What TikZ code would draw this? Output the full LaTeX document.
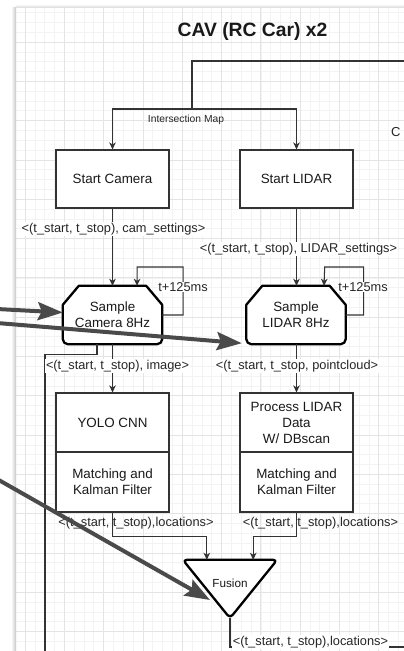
\documentclass[tikz,border=0pt]{standalone}
\usepackage{fontspec}
\setmainfont{Liberation Sans}
\usetikzlibrary{arrows.meta,calc}

\definecolor{linec}{HTML}{333333}
\definecolor{bigarrowc}{HTML}{4A4A4A}
\definecolor{minorg}{HTML}{F3F3F3}
\definecolor{majorg}{HTML}{E4E4E4}

\begin{document}
\begin{tikzpicture}[x=1pt,y=-1pt,
  minorgrid/.style={draw=minorg,line width=0.6pt},
  majorgrid/.style={draw=majorg,line width=0.8pt},
  box/.style={draw=linec,line width=1.1pt,fill=white,minimum width=113pt,
    align=center,font=\fontsize{13.4}{16}\selectfont,text=black!90,inner sep=0pt},
  hexbox/.style={minimum width=99pt,minimum height=58pt,align=center,
    font=\fontsize{13.4}{16}\selectfont,text=black!90,inner sep=0pt},
  thickout/.style={draw=black,line width=2.3pt,line join=round,fill=white},
  conn/.style={draw=linec,line width=1.05pt},
  arr/.style={conn,-{Stealth[length=7pt,width=6.5pt,inset=2pt]}},
  lbl/.style={font=\fontsize{12.8}{15}\selectfont,fill=white,inner sep=0.6pt,text=black!85},
  bigarrow/.style={draw=bigarrowc,line width=4pt,
    -{Stealth[length=25pt,width=18pt,inset=4pt]}},
]
\useasboundingbox (0,0) rectangle (404,651);
\fill[white] (0,0) rectangle (404,651);

% canvas grid
\begin{scope}
  \clip (16,7) rectangle (404,651);
  \fill[white] (16,7) rectangle (404,651);
  \foreach \k in {0,...,40} {\draw[minorgrid] ({15.175+\k*9.825},0) -- ++(0,660);}
  \foreach \k in {0,...,66} {\draw[minorgrid] (0,{2.7+\k*9.825}) -- ++(420,0);}
  \foreach \k in {0,...,10} {\draw[majorgrid] ({25+\k*39.3},0) -- ++(0,660);}
  \foreach \k in {0,...,16} {\draw[majorgrid] (0,{2.7+\k*39.3}) -- ++(420,0);}
\end{scope}
% page edge shadow
\shade[left color=white,right color=black!22] (11,7) rectangle (16,651);
\shade[top color=white,bottom color=black!12] (16,4) rectangle (404,7);

% title
\node[font=\bfseries\fontsize{19.3}{22}\selectfont,text=black!90] (title) at (252.5,32) {CAV (RC Car) x2};

% cut-off text at the right edge
\node[font=\fontsize{13}{15}\selectfont,text=black!85,anchor=west,inner sep=0pt] (cfrag) at (391,132) {C};

% start boxes
\node[box,minimum height=58pt] (sb) at (112.5,179) {Start Camera};
\node[box,minimum height=58pt] (lb) at (296.5,179) {Start LIDAR};

% sample shapes (loop limit outline)
\node[hexbox] (sc) at (112.5,315) {};
\node[hexbox] (ls) at (296,315) {};
\foreach \n in {sc,ls} {
  \draw[thickout,rounded corners=0pt]
    ($(\n.north west)+(16,0)$) -- ($(\n.north east)+(-16,0)$) -- ($(\n.north east)+(0,19)$)
    [rounded corners=5pt] -- (\n.south east) -- (\n.south west)
    [rounded corners=0pt] -- ($(\n.north west)+(0,19)$) -- cycle;
}
\node[hexbox] (sct) at (112.5,315) {Sample\\Camera 8Hz};
\node[hexbox] (lst) at (296,315) {Sample\\LIDAR 8Hz};

% processing boxes
\node[box,minimum height=59pt] (yolo) at (112.5,422.5) {YOLO CNN};
\node[box,minimum height=60pt] (mc) at (112.5,482) {Matching and\\Kalman Filter};
\node[box,minimum height=59pt] (lp) at (296.5,422.5) {Process LIDAR\\Data\\W/ DBscan};
\node[box,minimum height=60pt] (ml) at (296.5,482) {Matching and\\Kalman Filter};

% fusion
\node[minimum width=94pt,minimum height=58pt,inner sep=0pt] (fu) at (230,589) {};
\draw[thickout,rounded corners=4pt] (fu.north west) -- (fu.north east) -- (fu.south) -- cycle;
\node[font=\fontsize{11.7}{14}\selectfont,text=black!90] (fut) at (230,583) {Fusion};

% intersection map feed
\coordinate (mapin) at (406,61);
\coordinate (mapsplit) at (192,109);
\draw[conn] (mapin) -| (mapsplit);
\draw[arr] (mapsplit) -| (sb.north);
\draw[arr] (mapsplit) -| (lb.north);
\node[font=\fontsize{10.3}{12}\selectfont,text=black!85] (maplbl) at (186,120) {Intersection Map};

% start -> sample
\draw[arr] (sb.south) -- (sc.north);
\draw[arr] (lb.south) -- ($(ls.north)+(0.5,0)$);
\node[lbl] (l1) at (113.5,229) {<(t\_start, t\_stop), cam\_settings>};
\node[lbl] (l2) at (298.5,249) {<(t\_start, t\_stop), LIDAR\_settings>};

% sampling loops
\draw[arr] (sc.east) -- ++(21,0) |- ++(-46,-48) -- ($(sc.north)+(24.5,0)$);
\node[lbl] (l3) at (183,287) {t+125ms};
\draw[arr] (ls.east) -- ++(18,0) |- ++(-39,-48) -- ($(ls.north)+(28,0)$);
\node[lbl] (l4) at (363,287) {t+125ms};

% sample -> processing
\draw[conn] ($(sc.south)+(-15.5,0)$) -- ++(0,10) -| (45,660);
\draw[arr] (sc.south) -- (yolo.north);
\draw[arr] ($(ls.south)+(0.5,0)$) -- (lp.north);
\node[lbl] (l5) at (117.5,366) {<(t\_start, t\_stop), image>};
\node[lbl] (l6) at (297,366) {<(t\_start, t\_stop, pointcloud>};

% processing -> fusion
\draw[arr] (mc.south) -- ++(0,24) -| ($(fu.north west)+(24,0)$);
\draw[arr] (ml.south) -- ++(0,24) -| ($(fu.north east)+(-24,0)$);
\node[lbl,fill=none] (l7) at (136,523) {<(t\_start, t\_stop),locations>};
\node[lbl,fill=none] (l8) at (320.5,523) {<(t\_start, t\_stop),locations>};

% fusion output
\coordinate (fuout) at (410,647);
\draw[conn] (fu.south) |- (fuout);
\node[lbl] (l9) at (310.5,642) {<(t\_start, t\_stop),locations>};

% incoming links from the left
\coordinate (in1) at (-3,309);
\coordinate (in2) at (-3,323);
\coordinate (in3) at (-3,479);
\draw[bigarrow] (in1) -- ($(sc.west)+(0,-2.5)$);
\draw[bigarrow] (in2) -- ($(ls.south west)+(-4.5,-1)$);
\draw[bigarrow] (in3) -- (210,600);
\end{tikzpicture}
\end{document}
